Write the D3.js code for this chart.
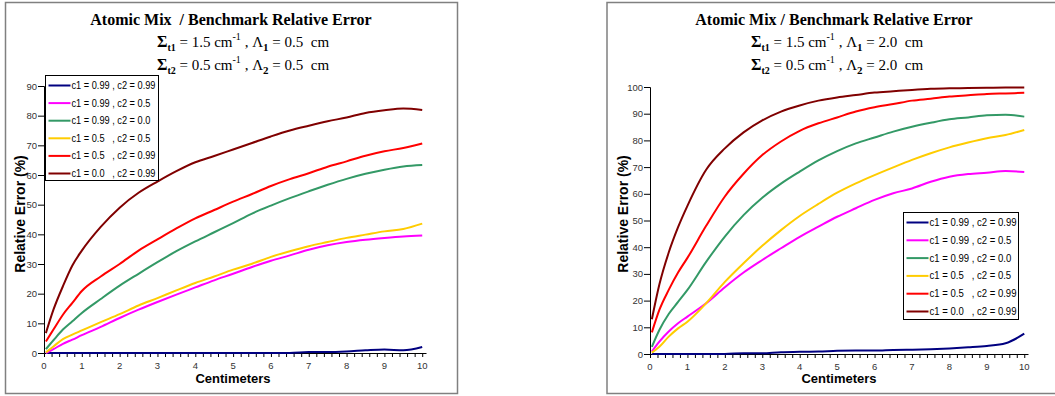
<!DOCTYPE html>
<html><head><meta charset="utf-8">
<script src="https://cdn.jsdelivr.net/npm/d3@7"></script>
<style>
body{margin:0;background:#fff;}
text{white-space:pre;}
</style></head><body>
<svg id="c" width="1055" height="396"></svg>
<script>
// ---------- data ----------
const xs = [0.05,0.25,0.5,0.75,1,1.5,2,2.5,3,3.5,4,4.5,5,5.5,6,6.5,7,7.5,8,8.5,9,9.5,10];
const seriesNames = ["c1 = 0.99 , c2 = 0.99","c1 = 0.99 , c2 = 0.5","c1 = 0.99 , c2 = 0.0","c1 = 0.5   , c2 = 0.5","c1 = 0.5   , c2 = 0.99","c1 = 0.0   , c2 = 0.99"];
const seriesColors = ["#000080","#FF00FF","#339966","#FFCC00","#FF0000","#800000"];

// Left chart: Lambda1 = Lambda2 = 0.5 cm
const leftC099C099 = [0,0,0,0,0,0,0,0,0,0,0,0,0,0,0,0,0.3,0.3,0.5,0.9,1.2,0.9,2.0];
const leftC099C05  = [0,1.3,3.1,4.5,6,8.8,11.8,14.6,17.2,19.7,22.1,24.5,26.7,29,31.1,32.9,34.8,36.3,37.4,38.2,38.8,39.3,39.6];
const leftC099C00  = [1.3,4.3,7.9,10.7,13.5,18.2,22.7,26.7,30.6,34.3,37.6,40.7,43.8,47,49.7,52.2,54.5,56.7,58.7,60.4,61.8,62.9,63.4];
const leftC05C05   = [0.2,2.2,4.7,6.2,7.6,10.4,13.1,16,18.5,21.1,23.6,25.8,28.1,30.1,32.4,34.3,36,37.4,38.8,39.9,41,41.8,43.6];
const leftC05C099  = [3.9,7.9,12.9,16.9,20.9,25.8,30,34.5,38.3,42,45.4,48.2,51,53.6,56.3,58.6,60.6,62.8,64.6,66.5,68,69.1,70.6];
const leftC00C099  = [6.7,14.6,22.5,29.5,34.5,42.5,49,54,57.8,61.3,64.3,66.4,68.6,70.8,73,75,76.6,78.1,79.4,80.9,81.8,82.4,81.9];

// Right chart: Lambda1 = Lambda2 = 2.0 cm
const rightC099C099 = [0,0,0,0,0,0,0,0.3,0.3,0.7,0.8,0.9,1.2,1.3,1.3,1.5,1.6,1.8,2.1,2.5,3.0,4.0,7.6];
const rightC099C05  = [0.9,4.6,8.4,11.5,14,19,25,30.5,35.2,39.6,43.9,47.7,51.4,54.6,57.7,60.2,62,64.5,66.4,67.4,67.9,68.5,68.2];
const rightC099C00  = [2.7,9,15,19.5,24,34.5,44,52,58.5,63.8,68.3,72.5,76,78.9,81.1,83.3,85.1,86.6,87.9,88.6,89.4,89.6,88.9];
const rightC05C05   = [0.5,2.7,6.5,9.6,12.1,19,27,34,40.5,46.4,51.7,56.2,60.4,63.9,67,69.9,72.7,75.2,77.4,79.2,80.8,82,83.9];
const rightC05C099  = [8.1,16.5,24,30.5,36,48,59,67.5,74.5,79.6,83.6,86.4,88.6,90.8,92.4,93.6,94.9,95.6,96.4,96.9,97.4,97.6,97.8];
const rightC00C099  = [13,26,38,47.5,55.5,69,77,83,87.5,90.8,93.1,94.9,96.1,97,97.9,98.4,98.9,99.3,99.5,99.6,99.7,99.8,99.8];

const xTickLabels = [0,1,2,3,4,5,6,7,8,9,10];
const leftYTicks = [0,10,20,30,40,50,60,70,80,90];
const rightYTicks = [0,10,20,30,40,50,60,70,80,90,100];
const lambdaLeft = "0.5";
const lambdaRight = "2.0";

// ---------- drawing ----------
const svg = d3.select("#c");
const SANS = "'Liberation Sans', Arial, sans-serif";
const SERIF = "'Liberation Serif', 'Times New Roman', serif";

function drawChart(cfg) {
  const g = svg.append("g");
  g.append("rect").attr("x", cfg.frame[0]).attr("y", cfg.frame[1])
    .attr("width", cfg.frame[2]).attr("height", cfg.frame[3])
    .attr("fill", "#fff").attr("stroke", "#808080").attr("stroke-width", 1.5);

  const x = d3.scaleLinear().domain([0, 10.1]).range(cfg.xRange);
  const y = d3.scaleLinear().domain([0, cfg.yMax]).range(cfg.yRange);

  // y axis
  const yAxis = d3.axisLeft(y).tickValues(cfg.yTicks).tickSize(6).tickPadding(1).tickFormat(d3.format("d"));
  const ya = g.append("g").attr("transform", `translate(${cfg.xRange[0]},0)`).call(yAxis);
  ya.select(".domain").attr("stroke", "#000");
  ya.selectAll("text").attr("font-family", SANS).attr("font-size", 9.5).attr("fill", "#333");

  // x axis, minor ticks every 0.2
  const minor = d3.range(0, 10.001, 0.2);
  const xAxis = d3.axisBottom(x).tickValues(minor).tickSize(4).tickFormat("").tickSizeOuter(0);
  const xa = g.append("g").attr("transform", `translate(0,${cfg.yRange[0]})`).call(xAxis);
  xa.select(".domain").attr("stroke", "#000");
  g.append("g").selectAll("text").data(xTickLabels).join("text")
    .attr("x", d => x(d)).attr("y", cfg.yRange[0] + 16)
    .attr("text-anchor", "middle").attr("font-family", SANS).attr("font-size", 9.5).attr("fill", "#333")
    .text(d => d);

  // lines
  const line = d3.line().x((d, i) => x(xs[i])).y(d => y(d)).curve(d3.curveMonotoneX);
  cfg.series.forEach((s, k) => {
    g.append("path").attr("d", line(s)).attr("fill", "none")
      .attr("stroke", seriesColors[k]).attr("stroke-width", 2).attr("stroke-linejoin", "round");
  });

  // titles
  g.append("text").attr("x", cfg.titleX).attr("y", 25).attr("text-anchor", "middle")
    .attr("font-family", SERIF).attr("font-weight", "bold").attr("font-size", 16).attr("fill", "#000")
    .text(cfg.title);
  [[1, "1.5", cfg.lambda, 47], [2, "0.5", cfg.lambda, 70]].forEach(([n, sig, lam, yy]) => {
    const t = g.append("text").attr("x", cfg.subX).attr("y", yy).attr("text-anchor", "middle")
      .attr("font-family", SERIF).attr("font-size", 15).attr("fill", "#000");
    t.append("tspan").attr("font-weight", "bold").attr("font-size", 16).text("Σ");
    t.append("tspan").attr("font-weight", "bold").attr("font-size", 10).attr("dy", 4).text("t" + n);
    t.append("tspan").attr("dy", -4).text(" = " + sig + " cm");
    t.append("tspan").attr("font-size", 10).attr("dy", -7).text("-1");
    t.append("tspan").attr("dy", 7).text(" , Λ");
    t.append("tspan").attr("font-weight", "bold").attr("font-size", 11).attr("dy", 4).text(String(n));
    t.append("tspan").attr("dy", -4).text(" = " + lam + "  cm");
  });

  // axis titles
  g.append("text").attr("transform", `translate(${cfg.yTitle[0]},${cfg.yTitle[1]}) rotate(-90)`)
    .attr("text-anchor", "middle").attr("font-family", SANS).attr("font-weight", "bold").attr("font-size", 14)
    .text("Relative Error (%)");
  g.append("text").attr("x", cfg.xTitle[0]).attr("y", cfg.xTitle[1]).attr("text-anchor", "middle")
    .attr("font-family", SANS).attr("font-weight", "bold").attr("font-size", 13)
    .text("Centimeters");

  // legend
  const [lx, ly, lw, lh, rowH, textW] = cfg.legend;
  g.append("rect").attr("x", lx).attr("y", ly).attr("width", lw).attr("height", lh)
    .attr("fill", "#fff").attr("stroke", "#000").attr("stroke-width", 1);
  const texts = [];
  seriesNames.forEach((nm, k) => {
    const cy = ly + 10 + k * rowH;
    g.append("line").attr("x1", lx + 3).attr("x2", lx + 25).attr("y1", cy).attr("y2", cy)
      .attr("stroke", seriesColors[k]).attr("stroke-width", 2);
    texts.push(g.append("text").attr("x", lx + 26).attr("y", cy + 3.5)
      .attr("font-family", SANS).attr("font-size", 10.5).attr("fill", "#000").text(nm));
  });
  // compress horizontally to the width seen in the reference
  const maxLen = d3.max(texts, t => t.node().getComputedTextLength());
  const f = textW / maxLen;
  texts.forEach(t => {
    const L = t.node().getComputedTextLength();
    t.attr("textLength", L * f).attr("lengthAdjust", "spacingAndGlyphs");
  });
}

drawChart({
  frame: [5.5, 2.5, 452, 391],
  xRange: [44, 426], yRange: [353, 86], yMax: 90, yTicks: leftYTicks,
  series: [leftC099C099, leftC099C05, leftC099C00, leftC05C05, leftC05C099, leftC00C099],
  title: "Atomic Mix  / Benchmark Relative Error", titleX: 231, subX: 243, lambda: lambdaLeft,
  yTitle: [25, 214], xTitle: [233, 383],
  legend: [45.5, 75.5, 113, 105, 17.6, 84]
});
drawChart({
  frame: [607, 2.5, 460, 391],
  xRange: [650, 1028], yRange: [354, 87], yMax: 100, yTicks: rightYTicks,
  series: [rightC099C099, rightC099C05, rightC099C00, rightC05C05, rightC05C099, rightC00C099],
  title: "Atomic Mix / Benchmark Relative Error", titleX: 834, subX: 837, lambda: lambdaRight,
  yTitle: [628, 214], xTitle: [839, 383],
  legend: [903.5, 212.5, 115, 107, 17.8, 87]
});
</script>
</body></html>
